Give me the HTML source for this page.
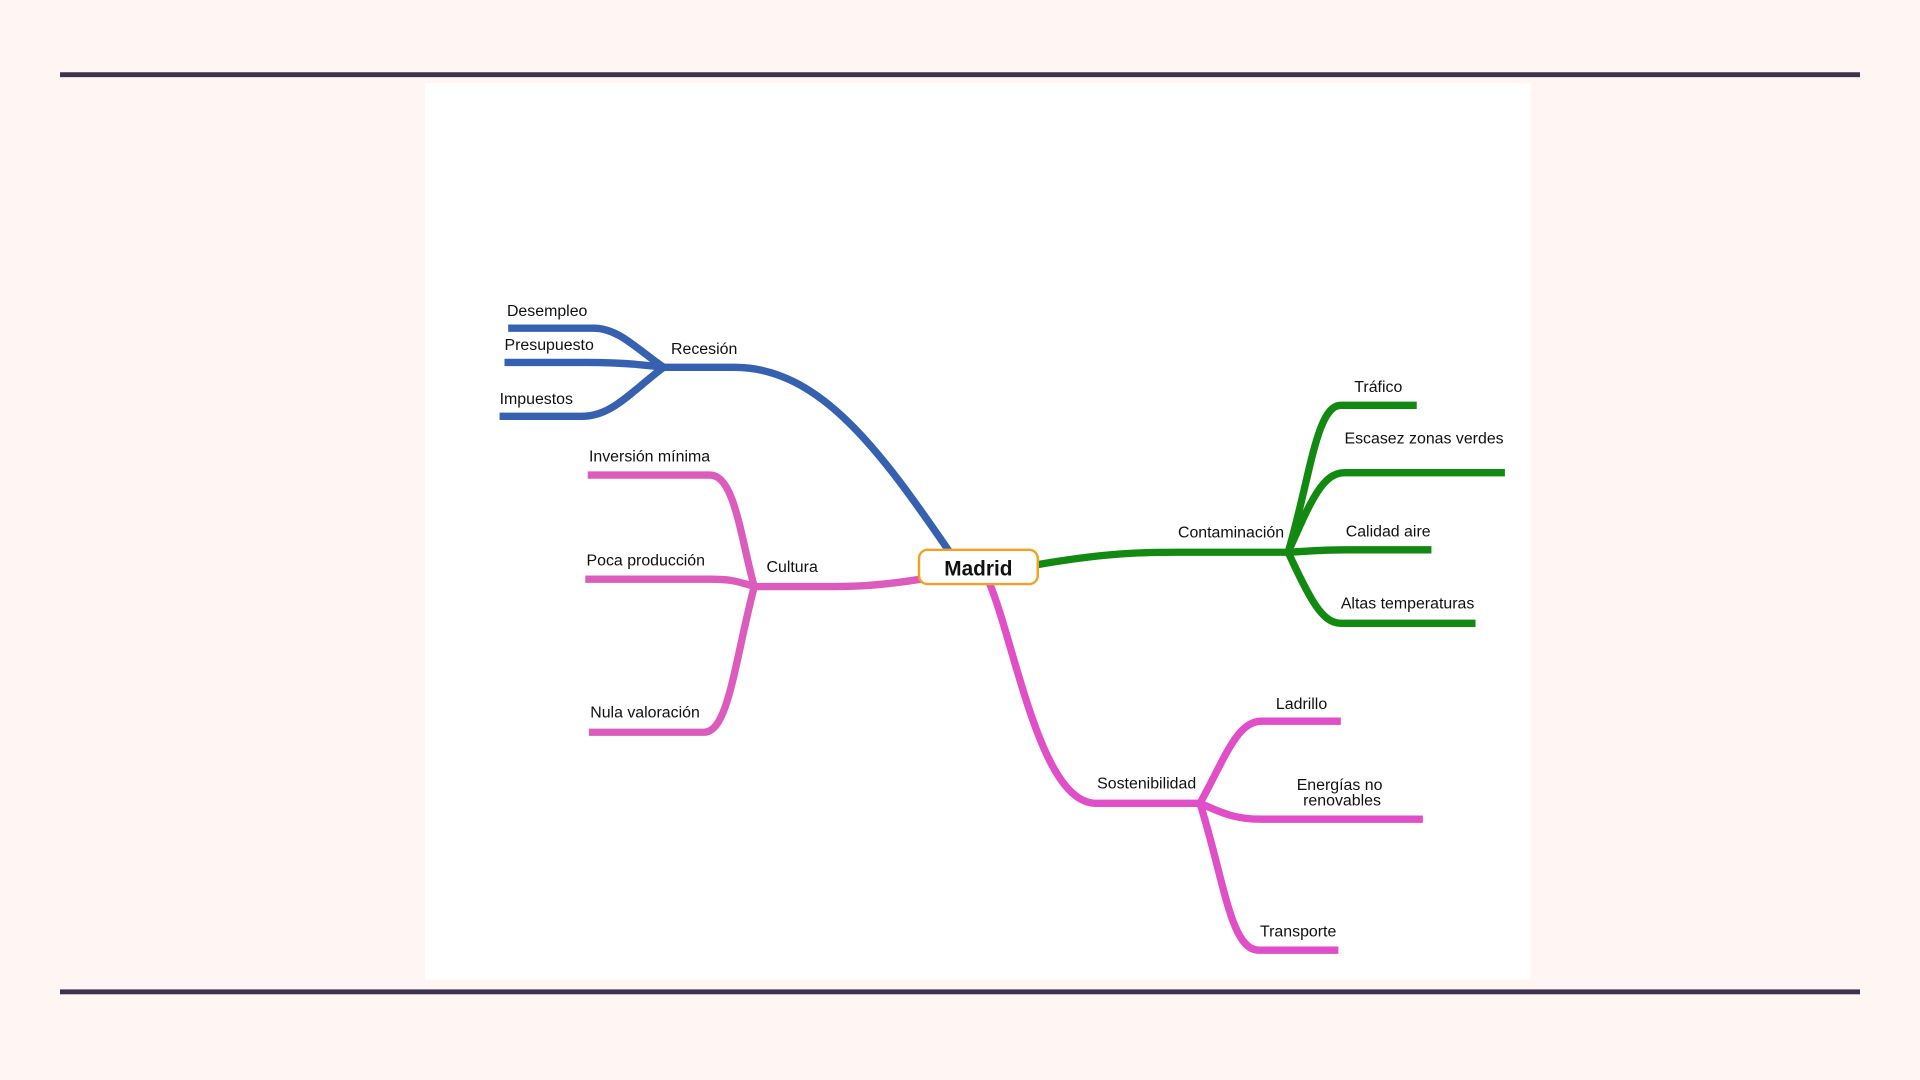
<!DOCTYPE html>
<html><head><meta charset="utf-8"><style>
html,body{margin:0;padding:0;background:#fff5f2;}
svg{display:block;}
text{font-family:"Liberation Sans",sans-serif;font-size:13px;fill:#111;}
</style></head><body>
<svg width="1920" height="1080" viewBox="0 0 1568 882" xmlns="http://www.w3.org/2000/svg">
<rect x="0" y="0" width="1568" height="882" fill="#fff5f2"/>
<rect x="347" y="68" width="903" height="732" fill="#ffffff"/>
<rect x="49" y="59" width="1470" height="4" fill="#3d3250"/>
<rect x="49" y="808" width="1470" height="4" fill="#3d3250"/>
<g fill="none" stroke-width="6" stroke-linecap="butt">
<g stroke="#3561b0">
<path d="M775,450 C720,370 670,300 600,300 L540,300"/>
<path d="M542,300 C520,285 505,268 485,268 L415,268"/>
<path d="M542,300 C520,297 500,296 480,296 L412,296"/>
<path d="M542,300 C515,320 500,340 475,340 L408,340"/>
</g>
<g stroke="#db5cbc">
<path d="M752,473 C720,478 700,479 680,479 L613,479"/>
<path d="M616,479 C605,440 600,388 580,388 L480,388"/>
<path d="M616,479 C600,474 595,473 580,473 L478,473"/>
<path d="M616,479 C600,540 595,598 575,598 L481,598"/>
</g>
<g stroke="#e04ec8">
<path d="M808,476 C830,530 850,656 895,656 L982,656"/>
<path d="M980,656 C1000,620 1010,589 1030,589 L1095,589"/>
<path d="M980,656 C1000,665 1010,669 1030,669 L1162,669"/>
<path d="M980,656 C1000,720 1005,776 1028,776 L1093,776"/>
</g>
<g stroke="#128a12">
<path d="M848,461 C900,452 930,451 960,451 L1054,451"/>
<path d="M1052,451 C1070,390 1075,331 1095,331 L1157,331"/>
<path d="M1052,451 C1070,410 1080,386 1098,386 L1229,386"/>
<path d="M1052,451 C1070,450 1080,449 1100,449 L1169,449"/>
<path d="M1052,451 C1070,490 1080,509 1095,509 L1205,509"/>
</g>
</g>
<rect x="750.5" y="449" width="97" height="28" rx="7" fill="#fff" stroke="#f2a122" stroke-width="2"/>
<text x="799" y="470" text-anchor="middle" style="font-size:17px;font-weight:bold;">Madrid</text>
<text x="414" y="258">Desempleo</text>
<text x="412" y="286">Presupuesto</text>
<text x="408" y="330">Impuestos</text>
<text x="548" y="289">Recesión</text>
<text x="481" y="377">Inversión mínima</text>
<text x="479" y="462">Poca producción</text>
<text x="626" y="467">Cultura</text>
<text x="482" y="586">Nula valoración</text>
<text x="962" y="439">Contaminación</text>
<text x="1106" y="320">Tráfico</text>
<text x="1098" y="362">Escasez zonas verdes</text>
<text x="1099" y="438">Calidad aire</text>
<text x="1095" y="497">Altas temperaturas</text>
<text x="896" y="644">Sostenibilidad</text>
<text x="1042" y="579">Ladrillo</text>
<text x="1094" y="645" text-anchor="middle">Energías  no</text>
<text x="1096" y="658" text-anchor="middle">renovables</text>
<text x="1029" y="765">Transporte</text>
</svg>
</body></html>
